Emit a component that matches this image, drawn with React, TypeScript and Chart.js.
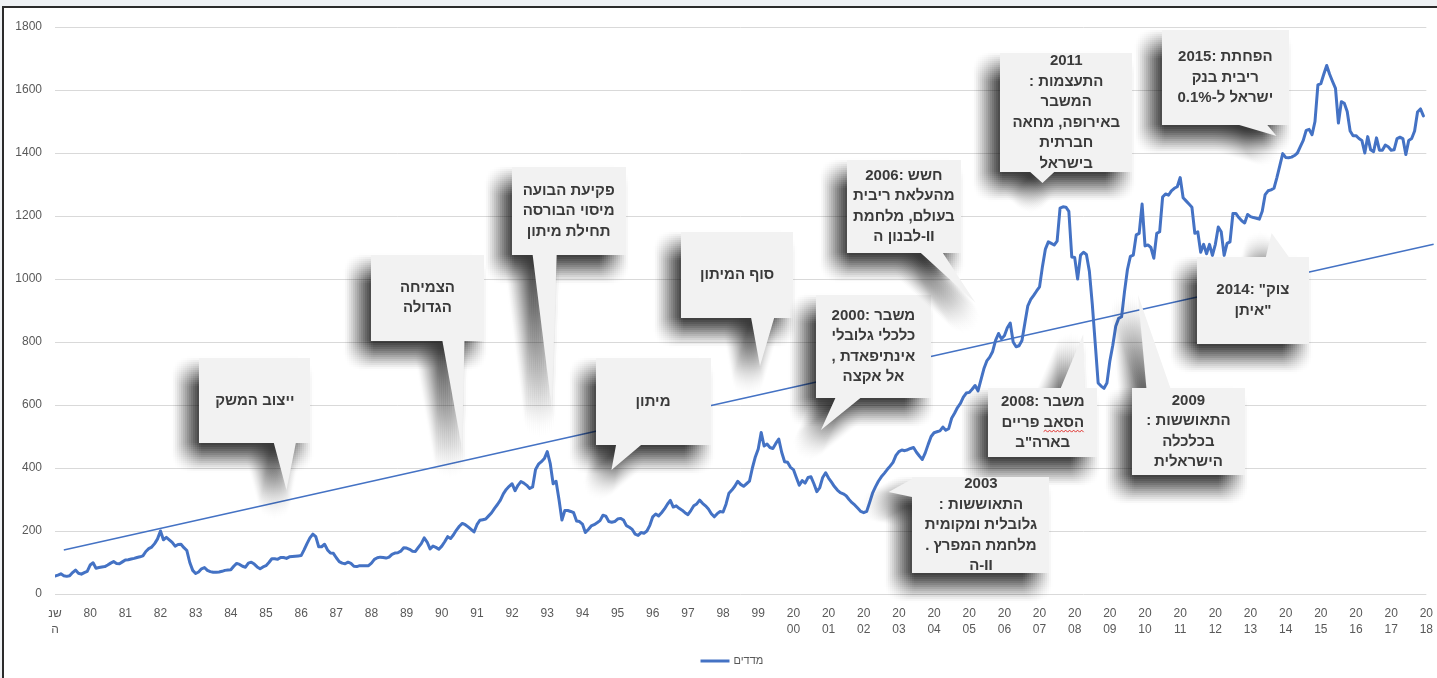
import React, { useEffect, useRef } from 'react';
import { Chart, registerables } from 'chart.js';

Chart.register(...registerables);

// ---------- DATA ----------
// Category (year) labels, one per 12 monthly points
const xYearLabels: string[] = [
  'שנה', '80', '81', '82', '83', '84', '85', '86', '87', '88', '89',
  '90', '91', '92', '93', '94', '95', '96', '97', '98', '99',
  '2000', '2001', '2002', '2003', '2004', '2005', '2006', '2007', '2008', '2009',
  '2010', '2011', '2012', '2013', '2014', '2015', '2016', '2017', '2018',
];

// Monthly index values, 12 per row
const indexMonthly: number[] = [
  57, 60, 64, 58, 56, 58, 68, 76, 66, 63, 68, 72,
  92, 99, 82, 84, 86, 87, 92, 98, 103, 97, 96, 102,
  108, 109, 111, 113, 116, 118, 121, 135, 144, 149, 160, 175,
  200, 172, 180, 172, 164, 152, 157, 158, 147, 138, 100, 75,
  65, 70, 80, 84, 75, 71, 69, 69, 70, 72, 75, 76,
  77, 88, 97, 94, 88, 85, 98, 101, 95, 86, 80, 86,
  90, 100, 112, 112, 110, 116, 116, 113, 118, 119, 120, 121,
  122, 140, 160, 178, 190, 182, 150, 150, 158, 140, 130, 129,
  115, 103, 98, 96, 101, 97, 88, 87, 90, 90, 90, 90,
  98, 110, 115, 117, 116, 114, 117, 126, 130, 131, 136, 147,
  146, 142, 136, 135, 148, 160, 178, 165, 143, 152, 148, 142,
  152, 166, 182, 176, 188, 203, 215, 224, 220, 213, 205, 197,
  220, 234, 236, 238, 248, 258, 272, 284, 298, 318, 332, 342,
  350, 328, 345, 357, 352, 345, 335, 340, 395, 412, 420, 430,
  452, 415, 350, 358, 300, 235, 265, 265, 262, 258, 232, 230,
  222, 195, 205, 216, 220, 226, 233, 250, 247, 230, 228, 230,
  238, 240, 235, 217, 212, 205, 190, 186, 195, 193, 200, 218,
  245, 254, 248, 258, 270, 285, 297, 276, 280, 272, 266, 258,
  252, 265, 280, 286, 298, 288, 280, 270, 255, 245, 255, 262,
  260, 285, 320, 330, 342, 358, 348, 342, 350, 358, 400, 435,
  460, 513, 470, 476, 465, 462, 478, 492, 450, 420, 418, 402,
  395, 370, 345, 360, 352, 370, 372, 350, 325, 338, 370, 385,
  368, 355, 341, 330, 322, 318, 312, 300, 290, 282, 272, 262,
  258, 262, 290, 320, 340, 358, 372, 383, 395, 406, 418, 440,
  452, 457, 455, 458, 462, 465, 450, 438, 427, 448, 475, 500,
  512, 515, 518, 530, 520, 525, 558, 574, 592, 605, 625, 638,
  640, 650, 662, 645, 680, 715, 740, 752, 770, 805, 827, 810,
  820, 845, 860, 800, 785, 788, 805, 860, 915, 935, 948, 962,
  975, 1040, 1095, 1118, 1113, 1108, 1120, 1225, 1229, 1228, 1215, 1070,
  1068, 1000, 1076, 1085, 1078, 1025, 920, 796, 670, 660, 653, 670,
  740, 790, 850, 875, 880, 960, 1030, 1072, 1076, 1140, 1145, 1238,
  1105, 1108, 1100, 1066, 1145, 1150, 1260, 1270, 1266, 1280, 1288, 1293,
  1322, 1258, 1248, 1238, 1228, 1145, 1150, 1085, 1110, 1080, 1110, 1075,
  1110, 1165, 1150, 1075, 1113, 1118, 1208, 1208, 1195, 1185, 1178, 1205,
  1198, 1195, 1193, 1190, 1215, 1268, 1280, 1283, 1288, 1322, 1360, 1398,
  1386, 1385, 1387, 1392, 1400, 1420, 1440, 1472, 1475, 1458, 1500, 1616,
  1620, 1650, 1678, 1650, 1627, 1605, 1495, 1563, 1558, 1532, 1470, 1455,
  1455, 1446, 1440, 1400, 1452, 1410, 1404, 1448, 1409, 1409, 1425, 1420,
  1409, 1410, 1446, 1450, 1446, 1395, 1440, 1446, 1470, 1530, 1540, 1518,
];

// Linear trend line end points: [month index, value]
const trendStart: [number, number] = [3, 140];
const trendEnd: [number, number] = [470.5, 1110];

const seriesLabel = 'מדדים';
const yTickMax = 1800;
const yTickStep = 200;

// ---------- ANNOTATIONS (callouts) ----------
type Callout = {
  lines: string[];
  at: [number, number]; // box centre in data units (month index, value)
  w: number;
  h: number;
  edge: 'top' | 'bottom' | 'left';
  base: [number, number]; // offsets along the edge from the box centre (px), ascending
  tip: [number, number]; // data units
  squiggle?: { line: number; word: string };
};

const callouts: Callout[] = [
  { lines: ['ייצוב המשק'], at: [68.2, 614], w: 111, h: 85, edge: 'bottom', base: [19, 41], tip: [79.0, 330] },
  { lines: ['הצמיחה', 'הגדולה'], at: [127.1, 940], w: 113, h: 86, edge: 'bottom', base: [15, 37], tip: [138.9, 463] },
  { lines: ['פקיעת הבועה', 'מיסוי הבורסה', 'תחילת מיתון'], at: [175.3, 1216], w: 114, h: 88, edge: 'bottom', base: [-36, -12], tip: [169.5, 594] },
  { lines: ['סוף המיתון'], at: [232.8, 1013], w: 112, h: 86, edge: 'bottom', base: [14, 37], tip: [240.6, 724] },
  { lines: ['מיתון'], at: [204.1, 611], w: 115, h: 87, edge: 'bottom', base: [-37, -12], tip: [189.9, 394] },
  { lines: ['2000: משבר', 'כלכלי גלובלי', ', אינתיפאדת', 'אל אקצה'], at: [279.3, 786], w: 115, h: 103, edge: 'bottom', base: [-38, -13], tip: [261.4, 521] },
  { lines: ['2006: חשש', 'מהעלאת ריבית', 'בעולם, מלחמת', 'לבנון ה-II'], at: [289.7, 1230], w: 114, h: 93, edge: 'bottom', base: [17, 39], tip: [314.2, 924] },
  { lines: ['2011', ': התעצמות', 'המשבר', 'באירופה, מחאה', 'חברתית', 'בישראל'], at: [345.1, 1529], w: 132, h: 119, edge: 'bottom', base: [-36, -12], tip: [337.0, 1305] },
  { lines: ['2015: הפחתת', 'ריבית בנק', 'ישראל ל-0.1%'], at: [399.4, 1640], w: 127, h: 95, edge: 'bottom', base: [14, 42], tip: [416.9, 1454] },
  { lines: ['2014: "צוק', 'איתן"'], at: [408.8, 932], w: 112, h: 87, edge: 'top', base: [13, 36], tip: [415.2, 1146] },
  { lines: ['2008: משבר', 'הסאב פריים', 'בארה"ב'], at: [337.1, 544], w: 109, h: 69, edge: 'top', base: [18, 42], tip: [350.9, 825], squiggle: { line: 1, word: 'הסאב' } },
  { lines: ['2009', ': התאוששות', 'בכלכלה', 'הישראלית'], at: [386.8, 516], w: 113, h: 87, edge: 'top', base: [-42, -18], tip: [369.6, 949] },
  { lines: ['2003', ': התאוששות', 'גלובלית ומקומית', '. מלחמת המפרץ', 'ה-II'], at: [316.0, 219], w: 137, h: 96, edge: 'left', base: [-46, -28], tip: [284.5, 324] },
];

const FONT = '"Liberation Sans", "DejaVu Sans", Arial, sans-serif';

// soft shadow: disk of sample offsets accumulated additively (1/255 alpha each)
const SH_R = 16;
const SH_STEP = 2;
const shadowSamples: [number, number][] = [];
for (let ox = -SH_R; ox <= SH_R; ox += SH_STEP) {
  for (let oy = -SH_R; oy <= SH_R; oy += SH_STEP) {
    if (ox * ox + oy * oy <= SH_R * SH_R) shadowSamples.push([ox, oy]);
  }
}
const SH_DX = -12;
const SH_DY = 14;

let shadowCanvas: HTMLCanvasElement | null = null;

const calloutPlugin = {
  id: 'callouts',
  afterDatasetsDraw(chart: any) {
    const { ctx } = chart;
    const xs = chart.scales.x;
    const ys = chart.scales.y;
    if (!shadowCanvas) shadowCanvas = document.createElement('canvas');
    shadowCanvas.width = chart.width;
    shadowCanvas.height = chart.height;
    const sctx = shadowCanvas.getContext('2d') as CanvasRenderingContext2D;
    ctx.save();
    for (const c of callouts) {
      const cx = xs.getPixelForValue(c.at[0]);
      const cy = ys.getPixelForValue(c.at[1]);
      const left = Math.round(cx - c.w / 2);
      const top = Math.round(cy - c.h / 2);
      const right = left + c.w;
      const bottom = top + c.h;
      const tx = xs.getPixelForValue(c.tip[0]);
      const ty = ys.getPixelForValue(c.tip[1]);
      const pts: [number, number][] = [];
      if (c.edge === 'bottom') {
        pts.push([left, top], [right, top], [right, bottom], [cx + c.base[1], bottom], [tx, ty], [cx + c.base[0], bottom], [left, bottom]);
      } else if (c.edge === 'top') {
        pts.push([left, top], [cx + c.base[0], top], [tx, ty], [cx + c.base[1], top], [right, top], [right, bottom], [left, bottom]);
      } else {
        pts.push([left, top], [right, top], [right, bottom], [left, bottom], [left, cy + c.base[1]], [tx, ty], [left, cy + c.base[0]]);
      }
      const path = (g: CanvasRenderingContext2D, dx: number, dy: number) => {
        g.beginPath();
        pts.forEach((p, k) => (k === 0 ? g.moveTo(p[0] + dx, p[1] + dy) : g.lineTo(p[0] + dx, p[1] + dy)));
        g.closePath();
      };
      // soft shadow on the offscreen canvas
      sctx.globalCompositeOperation = 'source-over';
      sctx.clearRect(0, 0, shadowCanvas.width, shadowCanvas.height);
      sctx.globalCompositeOperation = 'lighter';
      sctx.fillStyle = 'rgba(0,0,0,0.0039216)';
      for (const [ox, oy] of shadowSamples) {
        path(sctx, SH_DX + ox, SH_DY + oy);
        sctx.fill();
      }
      ctx.drawImage(shadowCanvas, 0, 0);
      // shape
      ctx.fillStyle = '#f2f2f2';
      path(ctx, 0, 0);
      ctx.fill();

      ctx.fillStyle = '#3a3a3a';
      ctx.font = 'bold 15px ' + FONT;
      ctx.textAlign = 'center';
      ctx.textBaseline = 'middle';
      const lh = 20.5;
      c.lines.forEach((ln, j) => {
        const ly = cy + (j - (c.lines.length - 1) / 2) * lh;
        ctx.fillText(ln, cx, ly);
        if (c.squiggle && c.squiggle.line === j) {
          const W = ctx.measureText(ln).width;
          const w1 = ctx.measureText(c.squiggle.word).width;
          const xr = cx + W / 2;
          const xl = xr - w1;
          const sy = ly + 9;
          ctx.save();
          ctx.strokeStyle = '#e0302c';
          ctx.lineWidth = 1;
          ctx.beginPath();
          let up = true;
          ctx.moveTo(xl, sy);
          for (let px = xl + 2; px <= xr; px += 2) {
            ctx.lineTo(px, up ? sy - 1.5 : sy + 0.5);
            up = !up;
          }
          ctx.stroke();
          ctx.restore();
        }
      });
    }
    ctx.restore();
  },
  afterDraw(chart: any) {
    // legend (line sample + label), bottom centre
    const { ctx } = chart;
    const ds = chart.data.datasets[0];
    const ly = chart.height - 17;
    const lx = chart.width / 2 - 18;
    ctx.save();
    ctx.strokeStyle = ds.borderColor;
    ctx.lineWidth = 3;
    ctx.beginPath();
    ctx.moveTo(lx, ly);
    ctx.lineTo(lx + 29, ly);
    ctx.stroke();
    ctx.fillStyle = '#595959';
    ctx.font = '11px ' + FONT;
    ctx.textAlign = 'left';
    ctx.textBaseline = 'middle';
    ctx.fillText(ds.label, lx + 33, ly);
    ctx.restore();
  },
};

export default function App() {
  const ref = useRef<HTMLCanvasElement | null>(null);

  useEffect(() => {
    const canvas = ref.current;
    if (!canvas) return;
    const chart = new Chart(canvas, {
      type: 'line',
      data: {
        datasets: [
          {
            label: seriesLabel,
            data: indexMonthly.map((v, i) => ({ x: i, y: v })),
            borderColor: '#4472C4',
            backgroundColor: '#4472C4',
            borderWidth: 3,
            pointRadius: 0,
            tension: 0,
            borderJoinStyle: 'round',
            borderCapStyle: 'round',
            fill: false,
            order: 1,
          },
          {
            label: 'trend',
            data: [
              { x: trendStart[0], y: trendStart[1] },
              { x: trendEnd[0], y: trendEnd[1] },
            ],
            borderColor: '#4472C4',
            borderWidth: 1.5,
            pointRadius: 0,
            fill: false,
            clip: false,
            order: 2,
          },
        ],
      },
      options: {
        animation: false,
        responsive: false,
        devicePixelRatio: 1,
        layout: { padding: { top: 27, right: 7, bottom: 33, left: 0 } },
        plugins: { legend: { display: false }, tooltip: { enabled: false } },
        scales: {
          x: {
            type: 'linear',
            min: 0,
            max: 468,
            grid: { display: false },
            border: { display: false },
            ticks: {
              stepSize: 12,
              autoSkip: false,
              maxRotation: 0,
              minRotation: 0,
              padding: 4,
              color: '#595959',
              font: { family: FONT, size: 12, lineHeight: 1.3 },
              callback: (value: any) => {
                const k = Math.round(Number(value) / 12);
                const s = xYearLabels[k];
                if (!s) return '';
                return s.length > 2 ? [s.slice(0, 2), s.slice(2)] : s;
              },
            },
            afterFit: (s: any) => {
              s.height = 51;
            },
          },
          y: {
            min: 0,
            max: yTickMax,
            grid: { color: '#d9d9d9', drawTicks: false, lineWidth: 1 },
            border: { display: false },
            ticks: {
              stepSize: yTickStep,
              padding: 13,
              color: '#595959',
              font: { family: FONT, size: 12 },
              callback: (value: any) => String(value),
            },
            afterFit: (s: any) => {
              s.width = 55;
            },
          },
        },
      } as any,
      plugins: [calloutPlugin],
    } as any);
    return () => chart.destroy();
  }, []);

  return (
    <div style={{ position: 'fixed', left: 0, top: 0, width: 1437, height: 678, background: '#fff', overflow: 'hidden' }}>
      <canvas ref={ref} width={1437} height={678} style={{ position: 'absolute', left: 0, top: 0, width: 1437, height: 678 }} />
      <div style={{ position: 'absolute', left: 0, top: 0, width: 1437, height: 6, background: '#eef1f4', pointerEvents: 'none' }} />
      <div style={{ position: 'absolute', left: 0, top: 0, width: 2, height: 678, background: '#eef1f4', pointerEvents: 'none' }} />
      <div
        style={{
          position: 'absolute',
          left: 2,
          top: 6,
          right: 0,
          bottom: 0,
          borderTop: '2px solid #2b2b2b',
          borderLeft: '2px solid #2b2b2b',
          pointerEvents: 'none',
        }}
      />
    </div>
  );
}
